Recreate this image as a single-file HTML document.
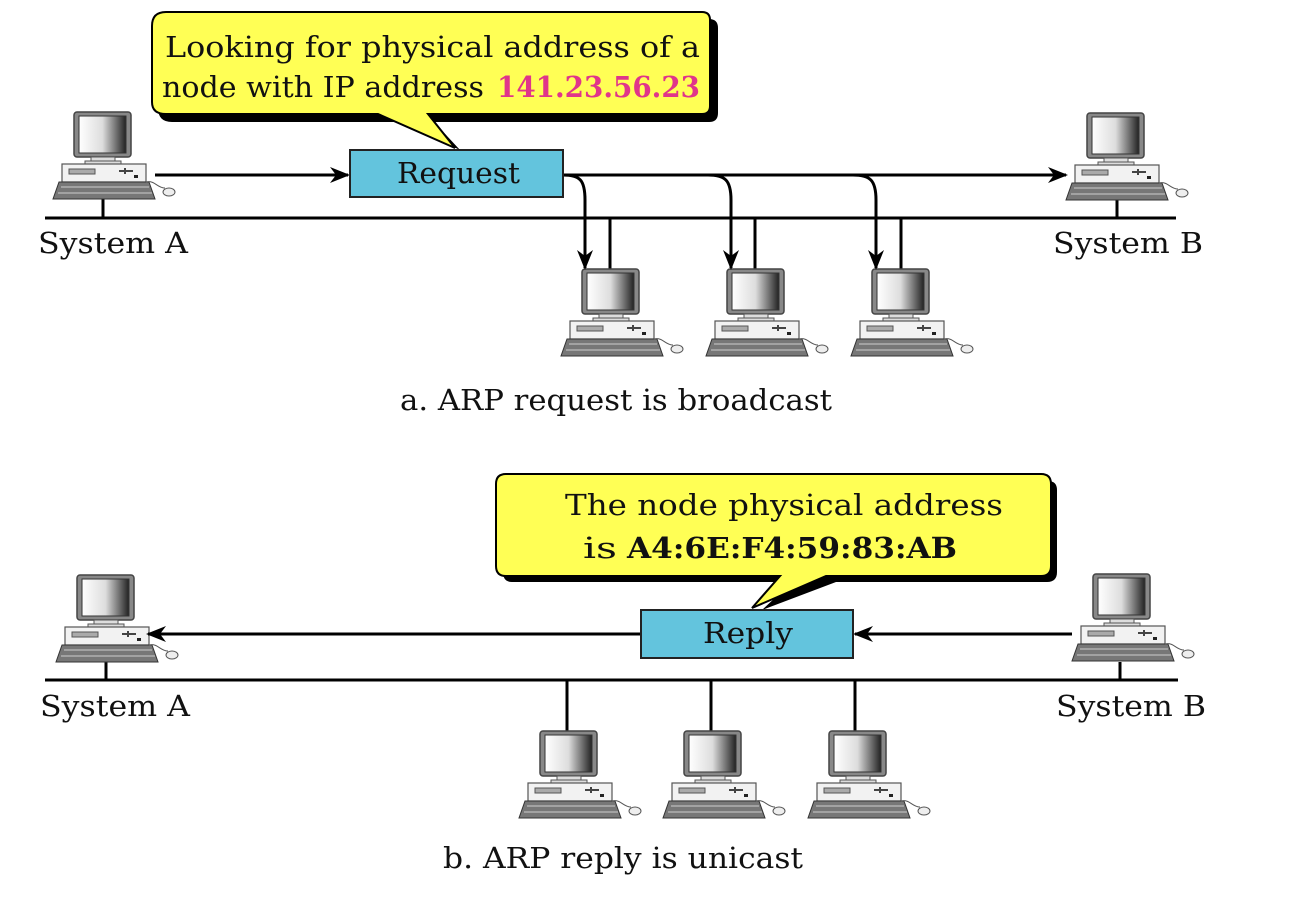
<!DOCTYPE html>
<html><head><meta charset="utf-8"><style>
html,body{margin:0;padding:0;background:#fff;}
svg{display:block;}
text{font-family:"DejaVu Serif","Liberation Serif",serif;fill:#111;}
</style></head><body>
<svg width="1310" height="900" viewBox="0 0 1310 900" xmlns="http://www.w3.org/2000/svg">
<defs>
<linearGradient id="scr" x1="0" y1="0" x2="1" y2="0">
<stop offset="0" stop-color="#fff"/><stop offset="0.5" stop-color="#ddd"/><stop offset="1" stop-color="#222"/>
</linearGradient>
<marker id="ah" markerWidth="20" markerHeight="16" refX="18" refY="8" orient="auto" markerUnits="userSpaceOnUse">
<path d="M0,0 L20,8 L0,16 L6,8 Z" fill="#000"/>
</marker>
<g id="pc">
<rect x="21" y="0" width="57" height="45" rx="3" fill="#888" stroke="#444" stroke-width="1.5"/>
<rect x="26" y="4" width="47" height="37" fill="url(#scr)" stroke="#333" stroke-width="1"/>
<rect x="38" y="45" width="24" height="4" fill="#ddd" stroke="#555"/>
<rect x="32" y="49" width="36" height="3" fill="#ddd" stroke="#555"/>
<rect x="9" y="52" width="84" height="18" fill="#f2f2f2" stroke="#555" stroke-width="1.2"/>
<rect x="16" y="57" width="26" height="5" fill="#aaa" stroke="#555"/>
<path d="M66,59 h14 M72,56 v6" stroke="#444" stroke-width="2"/>
<rect x="81" y="63" width="4" height="3" fill="#222"/>
<path d="M6,70 L96,70 L102,87 L0,87 Z" fill="#777" stroke="#333"/>
<path d="M8,75 h88 M5,81 h94" stroke="#ccc" stroke-width="1"/>
<path d="M93,70 C102,68 104,76 112,76" fill="none" stroke="#555"/>
<ellipse cx="116" cy="80" rx="6" ry="4" fill="#eee" stroke="#555"/>
</g>
</defs>

<!-- Part a -->
<line x1="45" y1="218" x2="1176" y2="218" stroke="#000" stroke-width="3"/>
<line x1="103" y1="197" x2="103" y2="218" stroke="#000" stroke-width="3"/>
<line x1="1117" y1="197" x2="1117" y2="218" stroke="#000" stroke-width="3"/>
<line x1="610" y1="218" x2="610" y2="270" stroke="#000" stroke-width="3"/>
<line x1="755" y1="218" x2="755" y2="270" stroke="#000" stroke-width="3"/>
<line x1="901" y1="218" x2="901" y2="270" stroke="#000" stroke-width="3"/>
<use href="#pc" x="53" y="112"/>
<use href="#pc" x="1066" y="113"/>
<use href="#pc" x="561" y="269"/>
<use href="#pc" x="706" y="269"/>
<use href="#pc" x="851" y="269"/>
<line x1="155" y1="175" x2="348" y2="175" stroke="#000" stroke-width="3" marker-end="url(#ah)"/>
<line x1="563" y1="175" x2="1066" y2="175" stroke="#000" stroke-width="3" marker-end="url(#ah)"/>
<path d="M563,175 C580,175 585,180 585,200 L585,268" fill="none" stroke="#000" stroke-width="3" marker-end="url(#ah)"/>
<path d="M708,175 C725,175 731,180 731,200 L731,268" fill="none" stroke="#000" stroke-width="3" marker-end="url(#ah)"/>
<path d="M853,175 C870,175 876,180 876,200 L876,268" fill="none" stroke="#000" stroke-width="3" marker-end="url(#ah)"/>
<rect x="350" y="150" width="213" height="47" fill="#63c4dd" stroke="#222" stroke-width="2"/>
<text x="397" y="183" font-size="29" textLength="123" lengthAdjust="spacingAndGlyphs">Request</text>
<!-- callout a -->
<path d="M172,19 H709 Q718,19 718,28 V113 Q718,122 709,122 H434 L460,150 L402,122 H172 Q158,122 158,108 V32 Q158,19 172,19 Z" fill="#000"/>
<path d="M166,12 H702 Q710,12 710,20 V106 Q710,114 702,114 H428 L455,148 L378,114 H166 Q152,114 152,102 V26 Q152,12 166,12 Z" fill="#ffff55" stroke="#000" stroke-width="2"/>
<text x="165" y="57" font-size="29" textLength="535" lengthAdjust="spacingAndGlyphs">Looking for physical address of a</text>
<text x="162" y="97" font-size="29" textLength="322" lengthAdjust="spacingAndGlyphs">node with IP address</text>
<text x="497" y="97" font-size="29" font-weight="bold" style="fill:#e0358a" textLength="203" lengthAdjust="spacingAndGlyphs">141.23.56.23</text>
<text x="38" y="253" font-size="29" textLength="150" lengthAdjust="spacingAndGlyphs">System A</text>
<text x="1053" y="253" font-size="29" textLength="150" lengthAdjust="spacingAndGlyphs">System B</text>
<text x="400" y="410" font-size="29" textLength="432" lengthAdjust="spacingAndGlyphs">a. ARP request is broadcast</text>

<!-- Part b -->
<line x1="45" y1="680" x2="1178" y2="680" stroke="#000" stroke-width="3"/>
<line x1="106" y1="662" x2="106" y2="680" stroke="#000" stroke-width="3"/>
<line x1="1120" y1="662" x2="1120" y2="680" stroke="#000" stroke-width="3"/>
<line x1="567" y1="680" x2="567" y2="732" stroke="#000" stroke-width="3"/>
<line x1="711" y1="680" x2="711" y2="732" stroke="#000" stroke-width="3"/>
<line x1="855" y1="680" x2="855" y2="732" stroke="#000" stroke-width="3"/>
<use href="#pc" x="56" y="575"/>
<use href="#pc" x="1072" y="574"/>
<use href="#pc" x="519" y="731"/>
<use href="#pc" x="663" y="731"/>
<use href="#pc" x="808" y="731"/>
<line x1="641" y1="634" x2="148" y2="634" stroke="#000" stroke-width="3" marker-end="url(#ah)"/>
<line x1="1072" y1="634" x2="855" y2="634" stroke="#000" stroke-width="3" marker-end="url(#ah)"/>
<!-- callout b -->
<path d="M512,481 H1048 Q1057,481 1057,490 V572 Q1057,582 1047,582 H836 L762,610 L792,582 H512 Q503,582 503,572 V490 Q503,481 512,481 Z" fill="#000"/>
<path d="M506,474 H1041 Q1051,474 1051,484 V566 Q1051,576 1041,576 H826 L752,608 L780,576 H506 Q496,576 496,566 V484 Q496,474 506,474 Z" fill="#ffff55" stroke="#000" stroke-width="2"/>
<rect x="641" y="610" width="212" height="48" fill="#63c4dd" stroke="#222" stroke-width="2"/>
<text x="703" y="643" font-size="29" textLength="90" lengthAdjust="spacingAndGlyphs">Reply</text>
<text x="565" y="515" font-size="29" textLength="438" lengthAdjust="spacingAndGlyphs">The node physical address</text>
<text x="583" y="558" font-size="29" textLength="34" lengthAdjust="spacingAndGlyphs">is</text>
<text x="627" y="558" font-size="29" font-weight="bold" textLength="330" lengthAdjust="spacingAndGlyphs">A4:6E:F4:59:83:AB</text>
<text x="40" y="716" font-size="29" textLength="150" lengthAdjust="spacingAndGlyphs">System A</text>
<text x="1056" y="716" font-size="29" textLength="150" lengthAdjust="spacingAndGlyphs">System B</text>
<text x="443" y="868" font-size="29" textLength="360" lengthAdjust="spacingAndGlyphs">b. ARP reply is unicast</text>
</svg>
</body></html>
